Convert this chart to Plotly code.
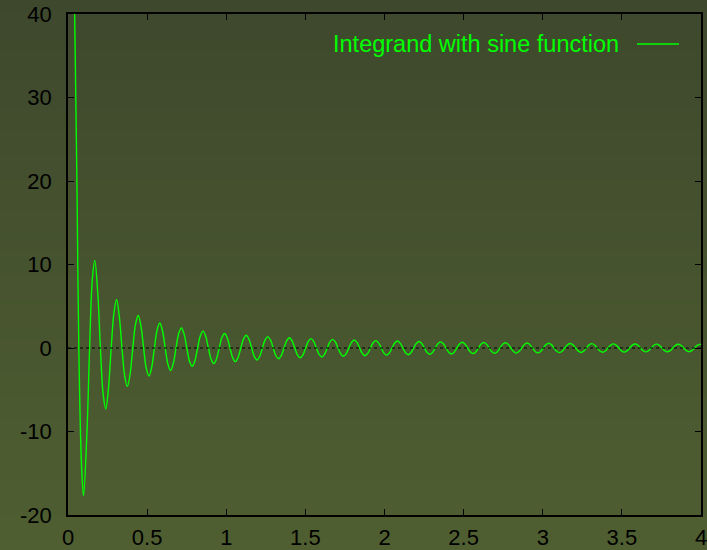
import plotly.graph_objects as go

# ---- data ----
series_name = "Integrand with sine function"

# steep first descent (values above 40 are clipped by the axis)
start_x = [0.035, 0.042, 0.050, 0.057]
start_y = [48.0, 40.0, 29.0, 19.0]

# zero crossings
zero_x = [0.0683, 0.1365, 0.2048, 0.2730, 0.3413, 0.4095, 0.4778, 0.5460, 0.6143, 0.6825,
          0.7508, 0.8190, 0.8873, 0.9555, 1.0238, 1.0920, 1.1603, 1.2285, 1.2968, 1.3650,
          1.4333, 1.5015, 1.5698, 1.6380, 1.7063, 1.7745, 1.8428, 1.9110, 1.9793, 2.0475,
          2.1158, 2.1840, 2.2523, 2.3205, 2.3888, 2.4570, 2.5253, 2.5935, 2.6618, 2.7300,
          2.7983, 2.8665, 2.9348, 3.0030, 3.0713, 3.1395, 3.2078, 3.2760, 3.3443, 3.4125,
          3.4808, 3.5490, 3.6173, 3.6855, 3.7538, 3.8220, 3.8903, 3.9585]

# local maxima
peak_x = [0.169, 0.3071, 0.4436, 0.5801, 0.7166, 0.8531, 0.9896, 1.1261, 1.2626, 1.3991,
          1.5356, 1.6721, 1.8086, 1.9451, 2.0816, 2.2181, 2.3546, 2.4911, 2.6276, 2.7641,
          2.9006, 3.0371, 3.1736, 3.3101, 3.4466, 3.5831, 3.7196, 3.8561, 3.9926]
peak_y = [10.5, 5.8, 3.9, 3.0, 2.4, 2.02, 1.74, 1.53, 1.36, 1.23,
          1.12, 1.03, 0.95, 0.88, 0.83, 0.78, 0.73, 0.69, 0.65, 0.62,
          0.59, 0.57, 0.54, 0.52, 0.50, 0.48, 0.46, 0.45, 0.43]

# local minima
trough_x = [0.098, 0.2389, 0.3754, 0.5119, 0.6484, 0.7849, 0.9214, 1.0579, 1.1944, 1.3309,
            1.4674, 1.6039, 1.7404, 1.8769, 2.0134, 2.1499, 2.2864, 2.4229, 2.5594, 2.6959,
            2.8324, 2.9689, 3.1054, 3.2419, 3.3784, 3.5149, 3.6514, 3.7879, 3.9244]
trough_y = [-17.7, -7.3, -4.6, -3.36, -2.7, -2.19, -1.87, -1.63, -1.44, -1.29,
            -1.17, -1.07, -0.99, -0.92, -0.85, -0.80, -0.75, -0.71, -0.67, -0.64,
            -0.61, -0.58, -0.55, -0.53, -0.51, -0.49, -0.47, -0.45, -0.44]

# points on the flanks of each wave (between a zero crossing and an extremum)
flank_x = [0.0854, 0.1195, 0.1536, 0.1877, 0.2219, 0.2560, 0.2901, 0.3242, 0.3584, 0.3925,
           0.4266, 0.4607, 0.4949, 0.5290, 0.5631, 0.5972, 0.6314, 0.6655, 0.6996, 0.7337,
           0.7679, 0.8020, 0.8361, 0.8702, 0.9044, 0.9385, 0.9726, 1.0067, 1.0409, 1.0750,
           1.1091, 1.1432, 1.1774, 1.2115, 1.2456, 1.2797, 1.3139, 1.3480, 1.3821, 1.4162,
           1.4504, 1.4845, 1.5186, 1.5527, 1.5869, 1.6210, 1.6551, 1.6892, 1.7234, 1.7575,
           1.7916, 1.8257, 1.8599, 1.8940, 1.9281, 1.9622, 1.9964, 2.0305, 2.0646, 2.0987,
           2.1329, 2.1670, 2.2011, 2.2352, 2.2694, 2.3035, 2.3376, 2.3717, 2.4059, 2.4400,
           2.4741, 2.5082, 2.5424, 2.5765, 2.6106, 2.6447, 2.6789, 2.7130, 2.7471, 2.7812,
           2.8154, 2.8495, 2.8836, 2.9177, 2.9519, 2.9860, 3.0201, 3.0542, 3.0884, 3.1225,
           3.1566, 3.1907, 3.2249, 3.2590, 3.2931, 3.3272, 3.3614, 3.3955, 3.4296, 3.4637,
           3.4979, 3.5320, 3.5661, 3.6002, 3.6344, 3.6685, 3.7026, 3.7367, 3.7709, 3.8050,
           3.8391, 3.8732, 3.9074, 3.9415, 3.9756]
flank_y = [-14.0, -10.2, 8.2, 6.7, -5.5, -4.75, 4.19, 3.75, -3.39, -3.10,
           2.85, 2.64, -2.46, -2.30, 2.16, 2.04, -1.93, -1.83, 1.74, 1.66,
           -1.58, -1.52, 1.45, 1.40, -1.34, -1.30, 1.25, 1.21, -1.17, -1.13,
           1.10, 1.06, -1.03, -1.00, 0.98, 0.95, -0.93, -0.90, 0.88, 0.86,
           -0.84, -0.82, 0.80, 0.78, -0.77, -0.75, 0.73, 0.72, -0.71, -0.69,
           0.68, 0.67, -0.65, -0.64, 0.63, 0.62, -0.61, -0.60, 0.59, 0.58,
           -0.57, -0.56, 0.55, 0.54, -0.54, -0.53, 0.52, 0.51, -0.51, -0.50,
           0.49, 0.48, -0.48, -0.47, 0.47, 0.46, -0.45, -0.45, 0.44, 0.44,
           -0.43, -0.43, 0.42, 0.42, -0.41, -0.41, 0.40, 0.40, -0.39, -0.39,
           0.39, 0.38, -0.38, -0.37, 0.37, 0.36, -0.36, -0.36, 0.35, 0.35,
           -0.35, -0.34, 0.34, 0.34, -0.33, -0.33, 0.33, 0.32, -0.32, -0.32,
           0.32, 0.31, -0.31, -0.31, 0.31]

end_x = [4.0]
end_y = [0.42]

x_tick_vals = [0, 0.5, 1, 1.5, 2, 2.5, 3, 3.5, 4]
x_tick_text = ["0", "0.5", "1", "1.5", "2", "2.5", "3", "3.5", "4"]
y_tick_vals = [-20, -10, 0, 10, 20, 30, 40]
y_tick_text = ["-20", "-10", "0", "10", "20", "30", "40"]

# ---- assemble ----
pts = list(zip(start_x, start_y))
pts += [(x, 0.0) for x in zero_x]
pts += list(zip(peak_x, peak_y))
pts += list(zip(trough_x, trough_y))
pts += list(zip(flank_x, flank_y))
pts += list(zip(end_x, end_y))
pts.sort(key=lambda p: p[0])
xs = [p[0] for p in pts]
ys = [p[1] for p in pts]

W, H = 707, 550
ML, MR, MT, MB = 68, 6, 14, 35
PW, PH = W - ML - MR, H - MT - MB

GREEN = "#00ff00"
FONT = "Liberation Sans, Arial, Helvetica, sans-serif"

fig = go.Figure()
fig.add_trace(go.Scatter(x=xs, y=ys, mode="lines", name=series_name,
                         line=dict(color=GREEN, width=1.4, shape="spline", smoothing=1.0),
                         showlegend=False, cliponaxis=True, hoverinfo="skip"))

shapes = []
# vertical background gradient across the whole page
top_c = (62, 72, 45)
bot_c = (79, 95, 49)
nb = 110
for i in range(nb):
    t = (i + 0.5) / nb
    c = tuple(round(top_c[k] + (bot_c[k] - top_c[k]) * t) for k in range(3))
    y_top_px = i * H / nb
    y_bot_px = (i + 1) * H / nb + 0.6
    shapes.append(dict(type="rect", xref="paper", yref="paper", layer="below",
                       x0=-ML / PW - 0.01, x1=1 + MR / PW + 0.01,
                       y0=(H - MB - y_bot_px) / PH, y1=(H - MB - y_top_px) / PH,
                       fillcolor="rgb(%d,%d,%d)" % c, line=dict(width=0)))
# dotted zero axis
shapes.append(dict(type="line", xref="paper", yref="y", x0=0, x1=1, y0=0, y1=0,
                   line=dict(color="black", width=1, dash="dot"), layer="above"))
# legend sample line
ly = (H - MB - 44) / PH
shapes.append(dict(type="line", xref="paper", yref="paper",
                   x0=(637 - ML) / PW, x1=(679 - ML) / PW, y0=ly, y1=ly,
                   line=dict(color=GREEN, width=1.4)))

fig.update_layout(
    width=W, height=H,
    margin=dict(l=ML, r=MR, t=MT, b=MB, pad=0),
    paper_bgcolor="rgb(70,83,47)",
    plot_bgcolor="rgba(0,0,0,0)",
    font=dict(family=FONT, size=22, color="black"),
    shapes=shapes,
    annotations=[dict(text=series_name, xref="paper", yref="paper",
                      x=(621 - ML) / PW, y=ly, xanchor="right", yanchor="middle",
                      showarrow=False, font=dict(family=FONT, size=23.5, color=GREEN))],
    showlegend=False,
    hovermode=False,
)
fig.update_xaxes(range=[0, 4], tickvals=x_tick_vals, ticktext=x_tick_text,
                 showgrid=False, zeroline=False, showline=True, linecolor="black",
                 linewidth=1.5, mirror="ticks", ticks="inside", ticklen=6,
                 tickcolor="black", tickwidth=1, ticklabelstandoff=2,
                 ticklabeloverflow="allow", automargin=False)
fig.update_yaxes(range=[-20, 40], tickvals=y_tick_vals, ticktext=y_tick_text,
                 showgrid=False, zeroline=False, showline=True, linecolor="black",
                 linewidth=1.5, mirror="ticks", ticks="inside", ticklen=6,
                 tickcolor="black", tickwidth=1, ticklabelstandoff=10,
                 ticklabeloverflow="allow", automargin=False)

fig.write_html("out.html", config={"displayModeBar": False},
               post_script="document.body.style.margin='0';")
